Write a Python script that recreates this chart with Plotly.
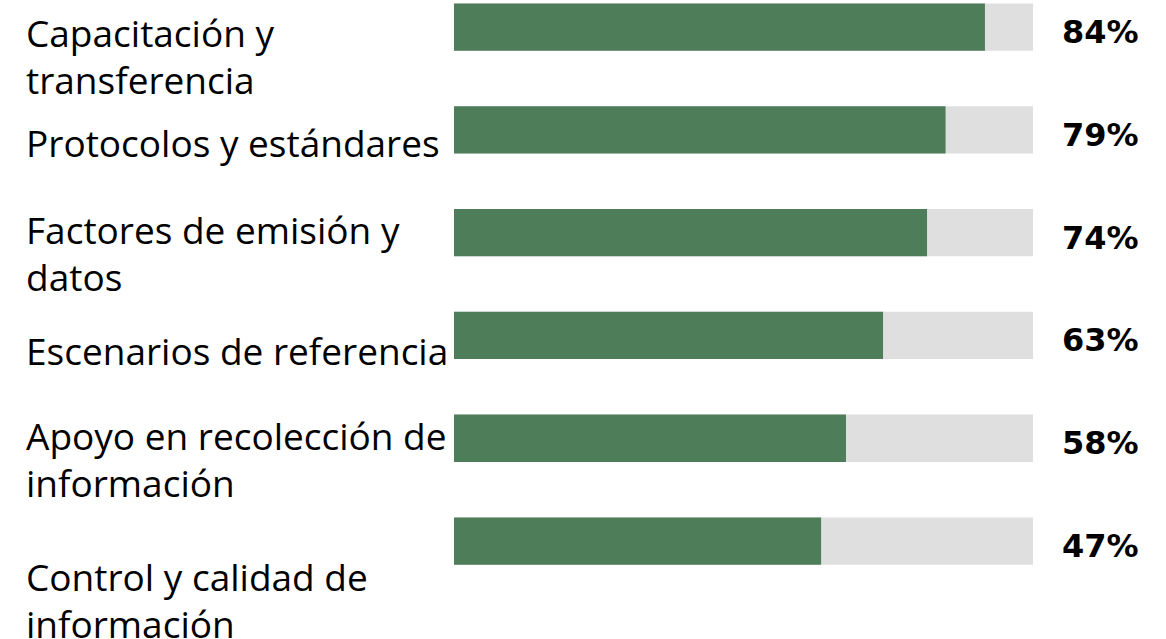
import plotly.graph_objects as go

# Data
categorias = [
    "Capacitación y<br>transferencia",
    "Protocolos y estándares",
    "Factores de emisión y<br>datos",
    "Escenarios de referencia",
    "Apoyo en recolección de<br>información",
    "Control y calidad de<br>información",
]
etiquetas = ["84%", "79%", "74%", "63%", "58%", "47%"]
# bar lengths as drawn (share of the grey track)
largo_barra = [91.7, 84.9, 81.7, 74.1, 67.7, 63.4]
fondo = [100, 100, 100, 100, 100, 100]

VERDE = "#4E7D59"
GRIS = "#DFDFDF"

fig = go.Figure()

# grey track behind
fig.add_trace(go.Bar(
    y=categorias, x=fondo, orientation="h",
    marker=dict(color=GRIS, line=dict(width=0)),
    width=0.46, hoverinfo="skip", showlegend=False,
))

# green bars
fig.add_trace(go.Bar(
    y=categorias, x=largo_barra, orientation="h",
    marker=dict(color=VERDE, line=dict(width=0)),
    width=0.46, showlegend=False,
))

# category labels on the left (one annotation per line)
desplaz = [5, 13, -3, 15, -3, 35]
for i, cat in enumerate(categorias):
    for j, linea in enumerate(cat.split("<br>")):
        fig.add_annotation(
            x=0, xref="paper", y=cat, yref="y",
            xanchor="left", yanchor="middle",
            xshift=-430, yshift=-(desplaz[i] + j * 47),
            text=linea, showarrow=False,
            font=dict(family="Open Sans", size=37, color="#000000"),
        )

# percentage labels on the right
for cat, txt in zip(categorias, etiquetas):
    fig.add_annotation(
        x=1, xref="paper", y=cat, yref="y",
        xanchor="left", yanchor="middle",
        xshift=27, yshift=-5,
        text="<b>" + txt + "</b>", showarrow=False,
        font=dict(family="DejaVu Sans", size=32, color="#000000"),
    )

fig.update_layout(
    width=1166, height=639,
    margin=dict(l=454, r=133, t=0, b=0),
    barmode="overlay",
    plot_bgcolor="white", paper_bgcolor="white",
    xaxis=dict(range=[0, 100], visible=False, fixedrange=True),
    yaxis=dict(range=[5.953, -0.263], visible=False, type="category"),
)

fig.write_html("out.html", config={"displayModeBar": False},
               post_script="document.body.style.margin='0';")
